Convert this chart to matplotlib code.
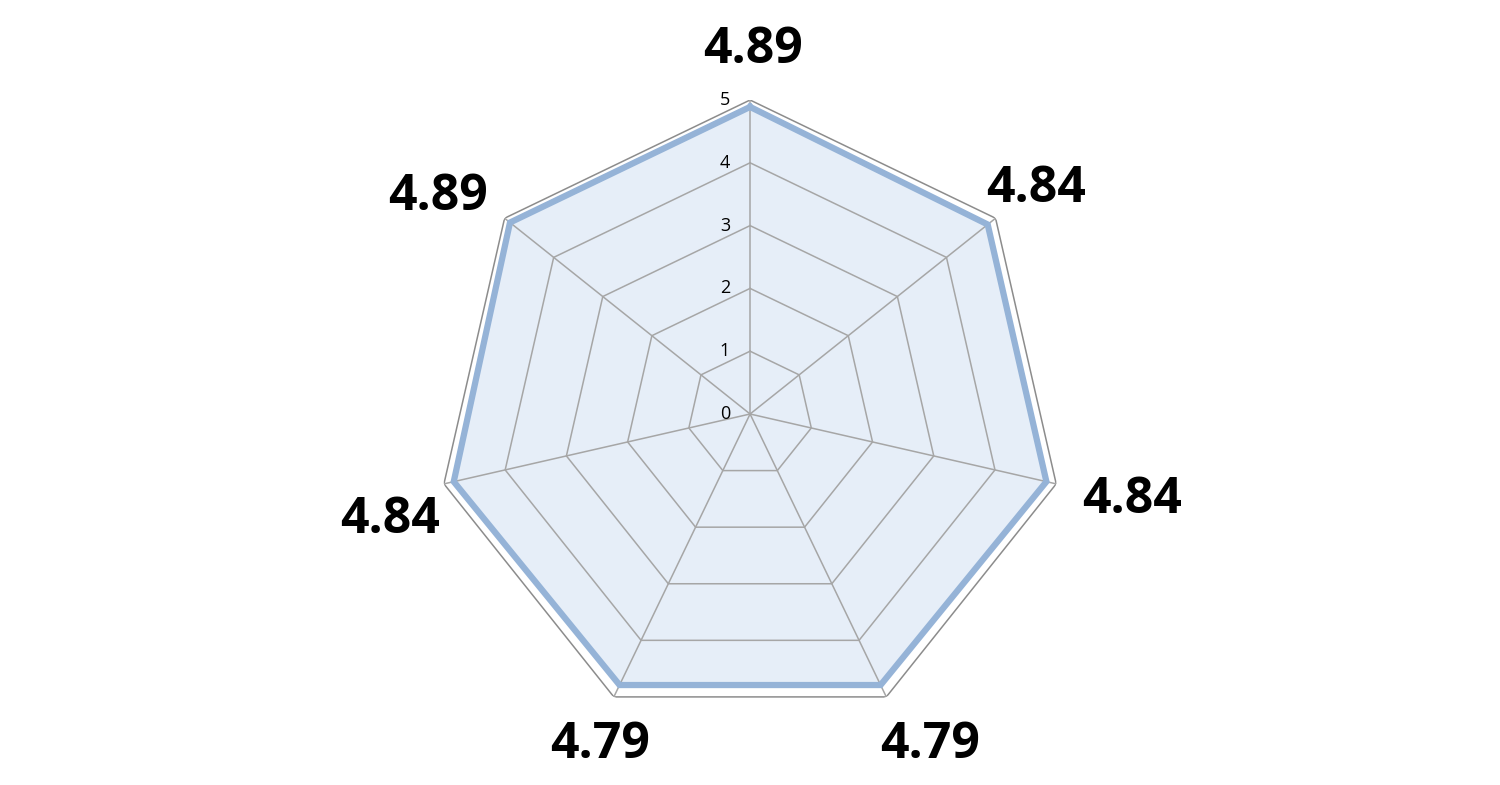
import numpy as np
import matplotlib.pyplot as plt

values = [4.89, 4.84, 4.84, 4.79, 4.79, 4.84, 4.89]
value_labels = ["4.89", "4.84", "4.84", "4.79", "4.79", "4.84", "4.89"]
rings = [1, 2, 3, 4, 5]
ring_labels = ["0", "1", "2", "3", "4", "5"]

n = len(values)
theta = np.arange(n) * 2 * np.pi / n
theta_c = np.append(theta, theta[0])
vals_c = np.append(values, values[0])

fig = plt.figure(figsize=(15, 7.85), dpi=100)
ax = fig.add_axes([0.2907, 0.0726, 0.4187, 0.8], projection="polar")
ax.set_theta_offset(np.pi / 2)
ax.set_theta_direction(-1)
ax.set_ylim(0, 5)
ax.axis("off")

# grid rings and spokes
for r in rings:
    col = "#8c8c8c" if r == 5 else "#a6a6a6"
    ax.plot(theta_c, [r] * (n + 1), color=col, lw=1.1, zorder=1)
for t in theta:
    ax.plot([t, t], [0, 5], color="#a6a6a6", lw=1.1, zorder=1)

# data
ax.fill(theta_c, vals_c, color="#e6eef8", zorder=0)
ax.plot(theta_c, vals_c, color="#95b3d7", lw=4.5, zorder=2, solid_joinstyle="miter")

# radial tick labels
for i, lab in enumerate(ring_labels):
    ax.annotate(lab, xy=(0, i), xytext=(-20, 0), textcoords="offset pixels",
                ha="right", va="center", fontsize=13, family="Open Sans")

# value labels outside
label_r = [5.80, 5.80, 6.24, 6.0, 5.79, 5.97, 6.05]
label_t = [0.5, 51.8, 102.7, 151.5, 204.4, 253.6, 304.8]
for lab, t, r in zip(value_labels, label_t, label_r):
    ax.text(np.deg2rad(t), r, lab, ha="center", va="center", fontsize=36,
            fontweight="bold", family="Open Sans")

fig.savefig("out.png", dpi=100)
